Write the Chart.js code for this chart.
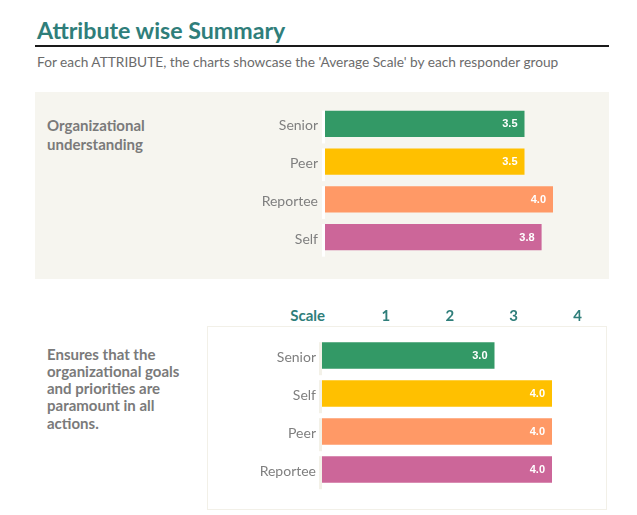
<!DOCTYPE html>
<html>
<head>
<meta charset="utf-8">
<script src="https://cdn.jsdelivr.net/npm/chart.js@4"></script>
<style>
  html, body { margin: 0; padding: 0; background: #ffffff; }
  #page { position: relative; width: 637px; height: 515px; overflow: hidden; font-family: Lato, "Open Sans", sans-serif; }
  .abs { position: absolute; white-space: nowrap; }
  #title { left: 37px; top: 19.4px; font-size: 23.2px; line-height: 23.2px; font-weight: 700; color: #2f7e7a; }
  #rule { left: 35px; top: 45px; width: 574px; height: 2px; background: #1a1a1a; }
  #subtitle { left: 37px; top: 54.5px; font-size: 13.7px; line-height: 13.7px; color: #6b6b6b; }
  #panel1 { left: 35px; top: 92px; width: 574px; height: 187px; background: #f6f5ef; }
  #attr1 { left: 47px; top: 116px; font-size: 15px; line-height: 19px; font-weight: 700; color: #7a7a7a; }
  #panel2 { left: 207px; top: 326px; width: 398px; height: 182px; border: 1px solid #f2f0e8; background: #ffffff; }
  #attr2 { left: 47px; top: 345.5px; font-size: 15px; line-height: 17.3px; font-weight: 700; color: #7a7a7a; }
  #scaleLbl { left: 260px; width: 65px; text-align: right; top: 307.5px; font-size: 15px; line-height: 15px; font-weight: 700; color: #2f7e7a; }
  #c1wrap { position: absolute; left: 230px; top: 100px; width: 390px; height: 165px; }
  #c2wrap { position: absolute; left: 200px; top: 296px; width: 420px; height: 204px; }
</style>
</head>
<body>
<div id="page">
  <div id="title" class="abs">Attribute wise Summary</div>
  <div id="rule" class="abs"></div>
  <div id="subtitle" class="abs">For each ATTRIBUTE, the charts showcase the 'Average Scale' by each responder group</div>
  <div id="panel1" class="abs"></div>
  <div id="attr1" class="abs">Organizational<br>understanding</div>
  <div id="panel2" class="abs"></div>
  <div id="attr2" class="abs">Ensures that the<br>organizational goals<br>and priorities are<br>paramount in all<br>actions.</div>
  <div id="scaleLbl" class="abs">Scale</div>
  <div id="c1wrap"><canvas id="c1"></canvas></div>
  <div id="c2wrap"><canvas id="c2"></canvas></div>
</div>
<script>
// ---- data ----
const attr1Groups = ['Senior', 'Peer', 'Reportee', 'Self'];
const attr1Values = [3.5, 3.5, 4.0, 3.8];
const attr2Groups = ['Senior', 'Self', 'Peer', 'Reportee'];
const attr2Values = [3.0, 4.0, 4.0, 4.0];
const scaleTickLabels = ['1', '2', '3', '4'];
const barColors = ['#339966', '#ffc000', '#ff9966', '#cc6699'];

// ---- plugins ----
const valueLabels = {
  id: 'valueLabels',
  afterDatasetsDraw(chart) {
    const ctx = chart.ctx;
    const meta = chart.getDatasetMeta(0);
    const ds = chart.data.datasets[0];
    ctx.save();
    ctx.font = 'bold 11px "Liberation Sans", Arial, sans-serif';
    ctx.fillStyle = '#ffffff';
    ctx.textAlign = 'right';
    ctx.textBaseline = 'middle';
    meta.data.forEach((bar, i) => {
      ctx.fillText(Number(ds.data[i]).toFixed(1), bar.x - 7, bar.y + 0.5);
    });
    ctx.restore();
  }
};
const axisSegments = {
  id: 'axisSegments',
  beforeDatasetsDraw(chart, args, opts) {
    const ctx = chart.ctx;
    const els = chart.getDatasetMeta(0).data;
    if (els.length < 2) return;
    const spacing = els[1].y - els[0].y;
    ctx.save();
    ctx.fillStyle = opts.color;
    els.forEach(bar => {
      const top = bar.y - bar.height / 2;
      ctx.fillRect(chart.chartArea.left - 3, top, 3, spacing - 5);
    });
    ctx.restore();
  }
};

function noPad(scale) {
  scale.paddingTop = 0; scale.paddingBottom = 0;
  scale.paddingLeft = 0; scale.paddingRight = 0;
}

function baseOptions(yWidth, segColor, tickPad) {
  return {
    indexAxis: 'y',
    responsive: true,
    maintainAspectRatio: false,
    animation: false,
    events: [],
    plugins: {
      legend: { display: false },
      tooltip: { enabled: false },
      axisSegments: { color: segColor }
    },
    scales: {
      x: { display: false, min: 0, max: 5, afterFit: noPad },
      y: {
        grid: { display: false, drawTicks: false },
        border: { display: false },
        ticks: { padding: tickPad, labelOffset: 2, color: '#7f7f7f', font: { family: 'Lato', size: 14 } },
        afterFit(scale) { scale.width = yWidth; noPad(scale); }
      }
    }
  };
}

// ---- chart 1 ----
const opt1 = baseOptions(95, '#ffffff', 7);
opt1.layout = { padding: { top: 5, bottom: 9, right: 10, left: 0 } };
new Chart(document.getElementById('c1'), {
  type: 'bar',
  data: {
    labels: attr1Groups,
    datasets: [{ data: attr1Values, backgroundColor: barColors, barPercentage: 0.7, categoryPercentage: 1 }]
  },
  options: opt1,
  plugins: [valueLabels, axisSegments]
});

// ---- chart 2 ----
const opt2 = baseOptions(122, '#f3f1e8', 6);
opt2.layout = { padding: { top: 0, bottom: 11.5, right: 10.5, left: 0 } };
opt2.scales.xTop = {
  type: 'linear',
  axis: 'x',
  position: 'top',
  min: 0,
  max: 4.5,
  grid: { display: false, drawTicks: false },
  border: { display: false },
  ticks: {
    stepSize: 1,
    includeBounds: false,
    autoSkip: false,
    maxRotation: 0,
    padding: 11.5,
    color: '#2f7e7a',
    font: { family: 'Lato', size: 15, weight: 'bold' },
    callback: (v) => (Number.isInteger(v) && v >= 1 && v <= scaleTickLabels.length) ? scaleTickLabels[v - 1] : ''
  },
  afterFit(scale) { scale.height = 40.5; noPad(scale); }
};
new Chart(document.getElementById('c2'), {
  type: 'bar',
  data: {
    labels: attr2Groups,
    datasets: [{ data: attr2Values, backgroundColor: barColors, barPercentage: 0.7, categoryPercentage: 1 }]
  },
  options: opt2,
  plugins: [valueLabels, axisSegments]
});
</script>
</body>
</html>
